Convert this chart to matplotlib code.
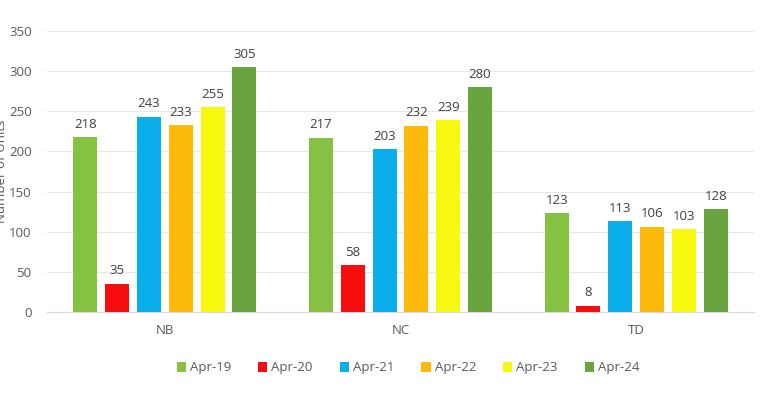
import matplotlib
matplotlib.use("Agg")
import matplotlib.pyplot as plt
import numpy as np
from matplotlib.patches import Patch

categories = ["NB", "NC", "TD"]
series = ["Apr-19", "Apr-20", "Apr-21", "Apr-22", "Apr-23", "Apr-24"]
apr19 = [218, 217, 123]
apr20 = [35, 58, 8]
apr21 = [243, 203, 113]
apr22 = [233, 232, 106]
apr23 = [255, 239, 103]
apr24 = [305, 280, 128]
values = [apr19, apr20, apr21, apr22, apr23, apr24]
colors = ["#86C242", "#F70D0D", "#0AAEEB", "#FDBA0A", "#F8F80F", "#6AA43E"]

plt.rcParams['font.family'] = ['Open Sans', 'DejaVu Sans']
fig = plt.figure(figsize=(7.81, 3.97), dpi=100)
ax = fig.add_axes([47/781, 1-312/397, 707/781, (312-31)/397])

x = np.arange(len(categories))
pitch = 0.135
width = 0.102
for i, (name, vals, c) in enumerate(zip(series, values, colors)):
    pos = x + (i - 2.5) * pitch
    ax.bar(pos, vals, width=width, color=c, label=name, zorder=3)
    for p, v in zip(pos, vals):
        ax.text(p, v + 8, str(v), ha='center', va='bottom', fontsize=9.5, color='#404040')

ax.set_xlim(-0.5, 2.5)
ax.set_ylim(0, 350)
ax.set_yticks(range(0, 351, 50))
ax.set_xticks(x)
ax.set_xticklabels(categories)
ax.tick_params(axis='both', length=0, labelsize=9.5, colors='#595959')
ax.tick_params(axis='y', pad=11)
ax.tick_params(axis='x', pad=9)
ax.grid(axis='y', color='#E6E6E6', linewidth=0.8, zorder=0)
for s in ['top', 'right', 'left']:
    ax.spines[s].set_visible(False)
ax.spines['bottom'].set_color('#D9D9D9')
ax.set_ylabel("Number of Units", fontsize=9.5, color='#595959')
ax.yaxis.set_label_coords(-39/707, 0.5)

handles = [Patch(facecolor=c, label=n) for n, c in zip(series, colors)]
fig.legend(handles=handles, loc='center', bbox_to_anchor=(408/781, 1-368/397), ncol=6,
           frameon=False, fontsize=9.5, handlelength=0.7, handleheight=0.7,
           handletextpad=0.3, columnspacing=2.05, labelcolor='#595959')

fig.savefig("out.png", dpi=100, facecolor='white')
